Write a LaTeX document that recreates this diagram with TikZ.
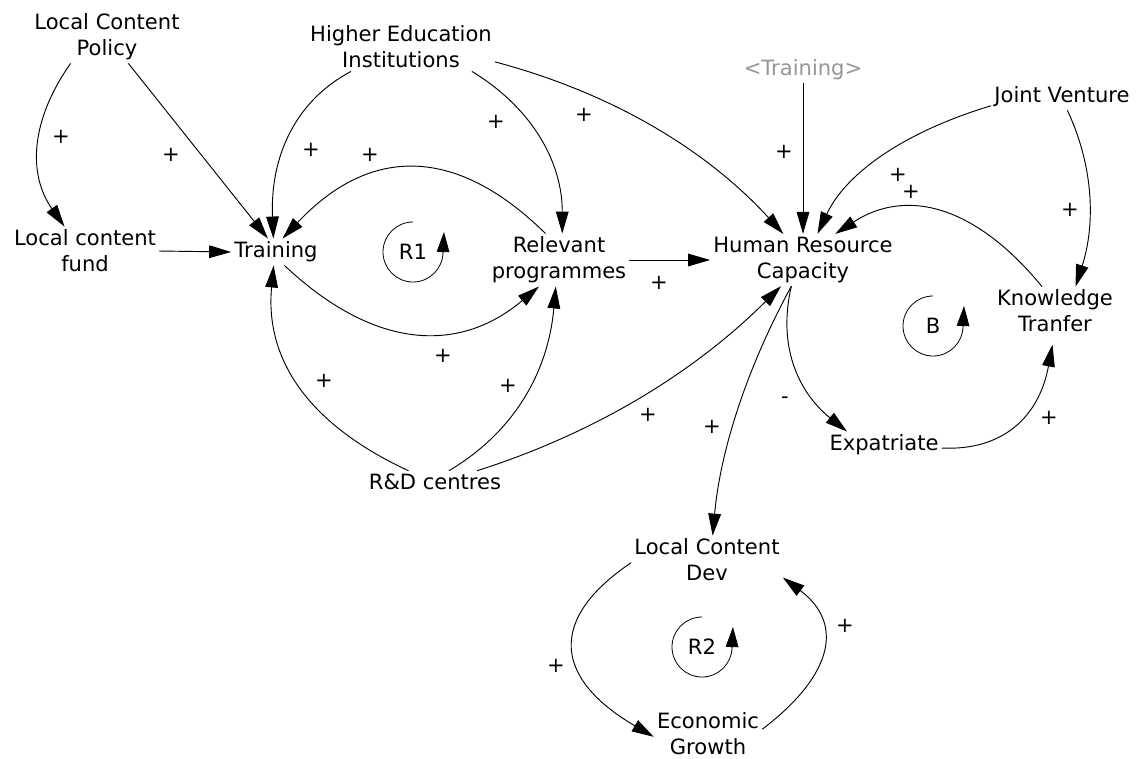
\documentclass[tikz,border=0pt]{standalone}
\usepackage{fontspec}
\setmainfont{DejaVu Sans}
\usetikzlibrary{arrows.meta}
\definecolor{shadowgray}{RGB}{150,150,150}
\begin{document}
\begin{tikzpicture}[x=0.75pt,y=0.75pt,
  var/.style={inner sep=2.25pt, align=center, font=\fontsize{15.8pt}{19.5pt}\selectfont},
  link/.style={line width=0.7pt, -{Triangle[length=16.5pt,width=9.5pt]}},
  sign/.style={font=\fontsize{15.8pt}{19.5pt}\selectfont, inner sep=0pt},
  loopmark/.style={line width=0.6pt},
  looptip/.style={line width=0.6pt, -{Triangle[length=15pt,width=9.5pt]}}]
\useasboundingbox (0,0) rectangle (1138,-758);

% variables
\node[var] (lcp) at (107,-37) {Local Content\\Policy};
\node[var] (hei) at (401,-47) {Higher Education\\Institutions};
\node[var, text=shadowgray] (trg) at (803,-70) {<Training>};
\node[var] (jv) at (1062,-97) {Joint Venture};
\node[var] (fund) at (85,-251) {Local content\\fund};
\node[var] (tr) at (276,-252) {Training};
\node[var] (rp) at (559,-260) {Relevant\\programmes};
\node[var] (hrc) at (803,-260) {Human Resource\\Capacity};
\node[var] (kt) at (1055,-311) {Knowledge\\Tranfer};
\node[var] (ex) at (884,-445) {Expatriate};
\node[var] (rd) at (435,-482) {R\&D centres};
\node[var] (lcd) at (707,-560) {Local Content\\Dev};
\node[var] (eg) at (708,-734) {Economic\\Growth};

% links
\draw[link] (lcp.216) .. controls (31.3,-119) and (27,-173.3) .. (fund.130);
\draw[link] (lcp.309) -- (tr.121);
\draw[link] (fund.east) -- (tr.west);
\draw[link] (hei.206) .. controls (295.7,-100.7) and (270,-156) .. (tr.101);
\draw[link] (rp.117) .. controls (456.7,-146) and (370.3,-145) .. (tr.64);
\draw[link] (hei.341) .. controls (532.7,-108.3) and (562.3,-162.7) .. (rp.83);
\draw[link] (hei.351) .. controls (612.3,-93) and (706.7,-150) .. (hrc.127);
\draw[link] (trg) -- (hrc);
\draw[link] (jv.187) .. controls (900.7,-133) and (845,-175) .. (hrc.61);
\draw[link] (kt.118) .. controls (975,-205) and (906.3,-187.7) .. (hrc.39);
\draw[link] (jv.292) .. controls (1093,-165) and (1096,-222.7) .. (kt.50);
\draw[link] (rp.east) -- (hrc.west);
\draw[link] (tr.302) .. controls (373.3,-349) and (458,-354.7) .. (rp.233);
\draw[link] (rd.157) .. controls (306.3,-423.3) and (265,-358) .. (tr.260);
\draw[link] (rd.39) .. controls (514.7,-431.7) and (548.3,-371.3) .. (rp.263);
\draw[link] (rd.15) .. controls (593.3,-433.7) and (692.3,-374.3) .. (hrc.230);
\draw[link] (hrc.246) .. controls (746.3,-369) and (720.3,-451) .. (lcd.77);
\draw[link] (hrc.246) .. controls (777.7,-344) and (796.7,-391) .. (ex.160);
\draw[link, shorten >=7pt] (ex.357) .. controls (1002.3,-451) and (1039,-417.3) .. (kt.268);
\draw[link] (lcd.182) .. controls (546.3,-620) and (555,-679) .. (eg.183);
\draw[link] (eg.5) .. controls (834.7,-674) and (843.3,-622.7) .. (lcd.347);

% polarity signs
\node[sign] (s1) at (61,-137) {+};
\node[sign] (s2) at (171,-155) {+};
\node[sign] (s4) at (311,-150) {+};
\node[sign] (s5) at (370,-155) {+};
\node[sign] (s6) at (496,-122) {+};
\node[sign] (s7) at (584,-115) {+};
\node[sign] (s8) at (784,-152) {+};
\node[sign] (s9) at (898,-175) {+};
\node[sign] (s10) at (911,-192) {+};
\node[sign] (s11) at (1070,-210) {+};
\node[sign] (s12) at (659,-283) {+};
\node[sign] (s13) at (443,-356) {+};
\node[sign] (s14) at (324,-381) {+};
\node[sign] (s15) at (508,-386) {+};
\node[sign] (s16) at (648,-415) {+};
\node[sign] (s17) at (712,-427) {+};
\node[sign] (s18) at (785,-400) {-};
\node[sign] (s19) at (1049,-418) {+};
\node[sign] (s20) at (556,-666) {+};
\node[sign] (s21) at (845,-626) {+};

% loop markers
\node[var] (r1) at (413,-252) {R1};
\draw[loopmark] (r1.center) ++(0,30) arc[start angle=90,end angle=360,radius=30];
\draw[looptip] (r1.center) ++(30,-1) -- ++(1,21);

\node[var] (lb) at (933,-326) {B};
\draw[loopmark] (lb.center) ++(0,30) arc[start angle=90,end angle=360,radius=30];
\draw[looptip] (lb.center) ++(30,-1) -- ++(1,21);

\node[var] (lr2) at (702,-647) {R2};
\draw[loopmark] (lr2.center) ++(0,30) arc[start angle=90,end angle=360,radius=30];
\draw[looptip] (lr2.center) ++(30,-1) -- ++(1,21);
\end{tikzpicture}
\end{document}
